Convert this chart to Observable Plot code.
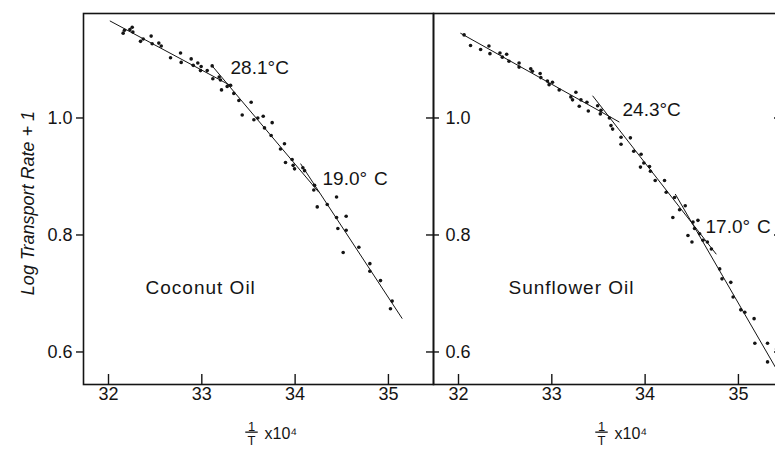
<!DOCTYPE html>
<html><head><meta charset="utf-8">
<script src="https://cdn.jsdelivr.net/npm/d3@7"></script>
<script src="https://cdn.jsdelivr.net/npm/@observablehq/plot@0.6"></script>
<style>
html,body{margin:0;padding:0;background:#fff;overflow:hidden;width:775px;height:450px}
#wrap{position:relative;width:775px;height:450px;overflow:hidden;background:#fff}
#left{position:absolute;left:0;top:0;width:433px;height:450px}
#right{position:absolute;left:423px;top:0;width:360px;height:450px}
#wrap svg{background:transparent!important;max-width:none!important;display:block}
</style></head><body><div id="wrap"><div id="left"></div><div id="right"></div></div>
<script>
// ---- data ----
const xTicks = [32, 33, 34, 35];
const yTicks = [0.6, 0.8, 1.0];

const coconutX = [32.157,32.171,32.229,32.254,32.261,32.343,32.372,32.457,32.468,32.539,32.565,32.665,32.772,32.779,32.886,32.908,32.957,32.986,32.993,33.058,33.111,33.118,33.186,33.200,33.211,33.272,33.308,33.343,33.397,33.433,33.529,33.558,33.600,33.658,33.672,33.754,33.743,33.843,33.886,33.897,33.968,33.979,33.994,34.083,34.101,34.200,34.208,34.444,34.237,34.344,34.444,34.458,34.547,34.547,34.515,34.683,34.801,34.801,34.915,35.040,35.022];
const coconutY = [1.145,1.150,1.151,1.155,1.147,1.131,1.135,1.140,1.127,1.128,1.123,1.103,1.111,1.095,1.101,1.090,1.094,1.081,1.088,1.081,1.089,1.067,1.070,1.065,1.048,1.054,1.056,1.042,1.030,1.005,1.027,0.997,1.000,1.003,0.983,0.992,0.970,0.947,0.956,0.924,0.929,0.919,0.913,0.915,0.910,0.877,0.885,0.865,0.848,0.852,0.830,0.811,0.832,0.808,0.770,0.779,0.751,0.738,0.722,0.687,0.674];

const sunflowerX = [32.060,32.129,32.237,32.326,32.337,32.444,32.470,32.516,32.541,32.649,32.649,32.774,32.792,32.875,32.882,32.953,32.971,33.007,33.079,33.204,33.258,33.222,33.312,33.294,33.376,33.391,33.491,33.520,33.527,33.617,33.634,33.652,33.742,33.742,33.842,33.878,33.957,33.950,33.986,34.047,34.057,34.108,34.208,34.226,34.315,34.369,34.430,34.297,34.513,34.566,34.530,34.584,34.459,34.502,34.620,34.667,34.710,34.799,34.824,34.918,34.943,35.025,35.068,35.168,35.176,35.312,35.312,35.409];
const sunflowerY = [1.142,1.124,1.117,1.123,1.110,1.111,1.104,1.109,1.097,1.094,1.087,1.084,1.080,1.076,1.069,1.063,1.057,1.061,1.048,1.036,1.044,1.031,1.031,1.020,1.027,1.012,1.021,1.007,1.013,1.000,0.987,0.981,0.967,0.955,0.966,0.943,0.938,0.916,0.923,0.917,0.909,0.893,0.893,0.873,0.864,0.843,0.850,0.830,0.822,0.825,0.811,0.802,0.799,0.788,0.791,0.788,0.776,0.742,0.725,0.719,0.694,0.672,0.668,0.657,0.615,0.615,0.583,0.605];

// fitted line segments (start / end), one entry per segment
const coconutSegX1 = [32.014, 33.111, 34.058];
const coconutSegY1 = [1.166, 1.089, 0.922];
const coconutSegX2 = [33.325, 34.254, 35.148];
const coconutSegY2 = [1.054, 0.873, 0.657];

const sunflowerSegX1 = [32.020, 33.437, 34.323];
const sunflowerSegY1 = [1.145, 1.038, 0.870];
const sunflowerSegX2 = [33.724, 34.763, 35.450];
const sunflowerSegY2 = [0.993, 0.767, 0.559];

// break-point labels
const coconutNotes = ["28.1°C", "19.0°\u00a0\u200aC"];
const coconutNoteX = [33.308, 34.294];
const coconutNoteY = [1.085, 0.895];
const sunflowerNotes = ["24.3°C", "17.0°\u00a0\u200aC"];
const sunflowerNoteX = [33.758, 34.647];
const sunflowerNoteY = [1.0145, 0.813];

// panel names
const panelNames = ["Coconut Oil", "Sunflower Oil"];
const panelNameX = [32.397, 32.536];
const panelNameY = [0.710, 0.710];

const yTitle = "Log Transport Rate + 1";

// ---- build ----
const zip = (xs, ys) => xs.map((x, i) => ({x, y: ys[i]}));
const segs = (x1, y1, x2, y2) => x1.map((d, i) => ({x1: d, y1: y1[i], x2: x2[i], y2: y2[i]}));
const notes = (t, xs, ys) => t.map((s, i) => ({text: s, x: xs[i], y: ys[i]}));

const xDomain = [31.732, 35.483];
const yDomain = [0.5444, 1.1786];
const H = 450, MT = 13, MB = 66;
const plotH = H - MT - MB;
const panelW = 350;
const ink = "#141414";
const font = "'Liberation Sans', Arial, Helvetica, sans-serif";

function xLabelMarks() {
  return [
    Plot.text(["\u20091\u2009"], {frameAnchor: "bottom", textAnchor: "middle", dx: -7, dy: 46, fontSize: 13, fill: ink}),
    Plot.text(["T"], {frameAnchor: "bottom", textAnchor: "middle", dx: -7, dy: 60, fontSize: 13, fill: ink}),
    Plot.text(["x10⁴"], {frameAnchor: "bottom", dx: 6, dy: 54, fontSize: 16, textAnchor: "start", fill: ink})
  ];
}

function panel({pts, lines, lbls, name, left}) {
  const marks = [
    Plot.frame({stroke: ink, strokeWidth: 1.6}),
    Plot.tickX(xTicks, {x: d => d, insetTop: plotH - 10, stroke: ink, strokeWidth: 1.4}),
    Plot.axisX(xTicks, {anchor: "bottom", tickSize: 0, tickPadding: 3, label: null, fill: ink, fontSize: 18}),
    Plot.link(lines, {x1: "x1", y1: "y1", x2: "x2", y2: "y2", stroke: ink, strokeWidth: 1}),
    Plot.dot(pts, {x: "x", y: "y", r: 1.8, fill: ink, stroke: null}),
    Plot.text(lbls, {x: "x", y: "y", text: "text", textAnchor: "start", fill: ink, fontSize: 19}),
    Plot.text([name], {x: d => d.x, y: d => d.y, text: d => d.text, textAnchor: "start", fill: ink, fontSize: 19}),
    ...xLabelMarks()
  ];
  if (left) {
    marks.push(
      Plot.axisY(yTicks, {anchor: "left", tickSize: 7, tickPadding: 4, tickFormat: d3.format(".1f"), label: null, fill: ink, strokeWidth: 1.4, fontSize: 18}),
      Plot.text([yTitle], {frameAnchor: "left", textAnchor: "middle", rotate: -90, dx: -55, dy: 4, fontStyle: "italic", fontSize: 18, fill: ink})
    );
  } else {
    marks.push(
      Plot.tickY(yTicks, {y: d => d, insetLeft: -7, insetRight: panelW - 6, stroke: ink, strokeWidth: 1.4}),
      Plot.text(yTicks, {y: d => d, text: d => d3.format(".1f")(d), frameAnchor: "left", textAnchor: "start", dx: 12, fill: ink, fontSize: 18}),
      Plot.tickY(yTicks, {y: d => d, insetLeft: panelW - 9, stroke: ink, strokeWidth: 1.4})
    );
  }
  return Plot.plot({
    width: left ? 83 + panelW : 10 + panelW,
    height: H,
    marginLeft: left ? 83 : 10,
    marginRight: 0,
    marginTop: MT,
    marginBottom: MB,
    x: {domain: xDomain},
    y: {domain: yDomain, axis: left ? undefined : null},
    style: {fontFamily: font, fontSize: "18px", color: ink, background: "transparent", overflow: "visible", maxWidth: "none"},
    marks
  });
}

const leftSvg = panel({
  pts: zip(coconutX, coconutY),
  lines: segs(coconutSegX1, coconutSegY1, coconutSegX2, coconutSegY2),
  lbls: notes(coconutNotes, coconutNoteX, coconutNoteY),
  name: {text: panelNames[0], x: panelNameX[0], y: panelNameY[0]},
  left: true
});
const rightSvg = panel({
  pts: zip(sunflowerX, sunflowerY),
  lines: segs(sunflowerSegX1, sunflowerSegY1, sunflowerSegX2, sunflowerSegY2),
  lbls: notes(sunflowerNotes, sunflowerNoteX, sunflowerNoteY),
  name: {text: panelNames[1], x: panelNameX[1], y: panelNameY[1]},
  left: false
});
document.getElementById("left").append(leftSvg);
document.getElementById("right").append(rightSvg);

for (const svg of [leftSvg, rightSvg]) {
  svg.style.maxWidth = "none";
  const texts = d3.select(svg).selectAll("text");
  // fraction bar of 1/T: underline the numerator
  texts.filter(function() { return this.textContent === "\u20091\u2009"; })
    .style("text-decoration", "underline");
  // the printed panel names are slightly tracked
  texts.filter(function() { return panelNames.includes(this.textContent); })
    .style("letter-spacing", "1px");
}
</script></body></html>
